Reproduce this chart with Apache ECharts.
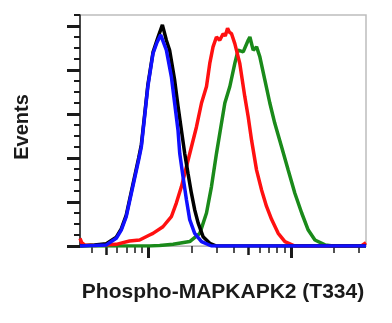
<!DOCTYPE html>
<html>
<head>
<meta charset="utf-8">
<script src="https://cdn.jsdelivr.net/npm/echarts@6/dist/echarts.min.js"></script>
<style>
  html, body { margin: 0; padding: 0; background: #fff; }
  #chart { width: 392px; height: 323px; }
</style>
</head>
<body>
<div id="chart"></div>
<script>
// x = log10(fluorescence), y = event count
var xMin = 2.518
var xMax = 4.528
var yMax = 210

// tick positions (log10 units / counts)
var xMajorTicks = [3, 4]
var xMidTicks = [2.699, 3.699]
var xMinorTicks = [2.602, 2.778, 2.845, 2.903, 2.954, 3.301, 3.477, 3.602, 3.778, 3.845, 3.903, 3.954, 4.301, 4.477]
var yMajorTicks = [0, 40, 80, 120, 160, 200]
var yMinorTicks = [10, 20, 30, 50, 60, 70, 90, 100, 110, 130, 140, 150, 170, 180, 190, 210]

var greenData = [
  [2.518, 0], [3.007, 0], [3.078, 0.5], [3.172, 1.5], [3.289, 4], [3.360, 11.5],
  [3.407, 30], [3.442, 54], [3.477, 84], [3.500, 102], [3.536, 130], [3.571, 145],
  [3.606, 166], [3.629, 178], [3.665, 176.5], [3.700, 187], [3.712, 190], [3.735, 178],
  [3.759, 181], [3.782, 172], [3.817, 151], [3.852, 130], [3.887, 111.5], [3.935, 90],
  [3.981, 69], [4.028, 48], [4.076, 30], [4.122, 14.5], [4.169, 5.5], [4.240, 1],
  [4.298, 0], [4.528, 0]
]

var redData = [
  [2.518, 7], [2.530, 3], [2.550, 1], [2.620, 0.5], [2.773, 1.5], [2.866, 4.5],
  [2.937, 5.5], [3.007, 10], [3.031, 11.5], [3.101, 17.5], [3.160, 26.6], [3.195, 39],
  [3.231, 54], [3.266, 72], [3.301, 90], [3.336, 108], [3.372, 130], [3.407, 145],
  [3.430, 166], [3.453, 181], [3.477, 190], [3.500, 187], [3.524, 193], [3.539, 191],
  [3.555, 198], [3.567, 194.5], [3.583, 193], [3.606, 184], [3.641, 166], [3.676, 136],
  [3.700, 117.5], [3.724, 96], [3.759, 69], [3.794, 51], [3.829, 36], [3.865, 24],
  [3.911, 11.5], [3.958, 4], [4.028, 0], [4.451, 0], [4.500, 0.5], [4.528, 3]
]

var blackData = [
  [2.518, 0], [2.620, 1], [2.703, 2], [2.773, 8], [2.808, 15.5], [2.843, 28],
  [2.930, 80], [2.949, 92], [2.972, 119], [2.995, 146.5], [3.031, 176], [3.064, 189],
  [3.097, 201], [3.125, 187], [3.148, 178], [3.183, 151], [3.207, 127], [3.231, 105],
  [3.254, 84], [3.277, 66], [3.301, 48], [3.324, 33], [3.348, 21], [3.383, 8.5],
  [3.430, 2.5], [3.477, 0], [4.528, 0]
]

var blueData = [
  [2.518, 0], [2.620, 0.5], [2.703, 1], [2.773, 7], [2.808, 14.5], [2.843, 26.6],
  [2.930, 78], [2.949, 90], [2.972, 117.5], [2.995, 145], [3.031, 175], [3.059, 185],
  [3.085, 192], [3.125, 178], [3.160, 154], [3.183, 130], [3.207, 105], [3.219, 84],
  [3.242, 63], [3.266, 42], [3.289, 24], [3.324, 11.5], [3.372, 4], [3.442, 0],
  [4.528, 0]
]

var mychart = echarts.init(document.getElementById('chart'))

function xAxisWith (ticks, len, width, main) {
  return {
    type: 'value',
    position: 'bottom',
    min: xMin,
    max: xMax,
    axisLine: { show: main, onZero: false, lineStyle: { color: '#b8b8b8', width: 1 } },
    axisTick: { show: true, customValues: ticks, length: len, lineStyle: { color: '#1a1a1a', width: width } },
    axisLabel: { show: false },
    splitLine: { show: false }
  }
}

function yAxisWith (ticks, len, width, main) {
  return {
    type: 'value',
    position: 'left',
    min: 0,
    max: yMax,
    axisLine: { show: main, onZero: false, lineStyle: { color: '#1a1a1a', width: 1.5 } },
    axisTick: { show: true, customValues: ticks, length: len, lineStyle: { color: '#1a1a1a', width: width } },
    axisLabel: { show: false },
    splitLine: { show: false }
  }
}

function curve (data, color) {
  return {
    type: 'line',
    data: data,
    xAxisIndex: 0,
    yAxisIndex: 0,
    showSymbol: false,
    symbol: 'none',
    animation: false,
    lineStyle: { color: color, width: 3.5 },
    z: 3
  }
}

var option = {
  animation: false,
  grid: {
    left: 80,
    top: 15,
    width: 286,
    height: 231,
    show: true,
    borderColor: '#bdbdbd',
    borderWidth: 1.5
  },
  xAxis: [
    xAxisWith(xMajorTicks, 12, 3, true),
    xAxisWith(xMidTicks, 9, 2.5, false),
    xAxisWith(xMinorTicks, 7, 1.5, false)
  ],
  yAxis: [
    yAxisWith(yMajorTicks, 13, 3, true),
    yAxisWith(yMinorTicks, 6, 2, false)
  ],
  series: [
    curve(greenData, '#1a8a1a'),
    curve(redData, '#ff1010'),
    curve(blackData, '#000000'),
    curve(blueData, '#1010ff')
  ],
  graphic: [
    {
      type: 'text',
      x: 22,
      y: 127,
      rotation: Math.PI / 2,
      style: {
        text: 'Events',
        font: 'bold 20px "Liberation Sans", Arial, sans-serif',
        fill: '#1a1a1a',
        align: 'center',
        verticalAlign: 'middle'
      }
    },
    {
      type: 'text',
      x: 223,
      y: 292,
      style: {
        text: 'Phospho-MAPKAPK2 (T334)',
        font: 'bold 21px "Liberation Sans", Arial, sans-serif',
        fill: '#1a1a1a',
        align: 'center',
        verticalAlign: 'middle'
      }
    }
  ]
}
mychart.setOption(option)
</script>
</body>
</html>
